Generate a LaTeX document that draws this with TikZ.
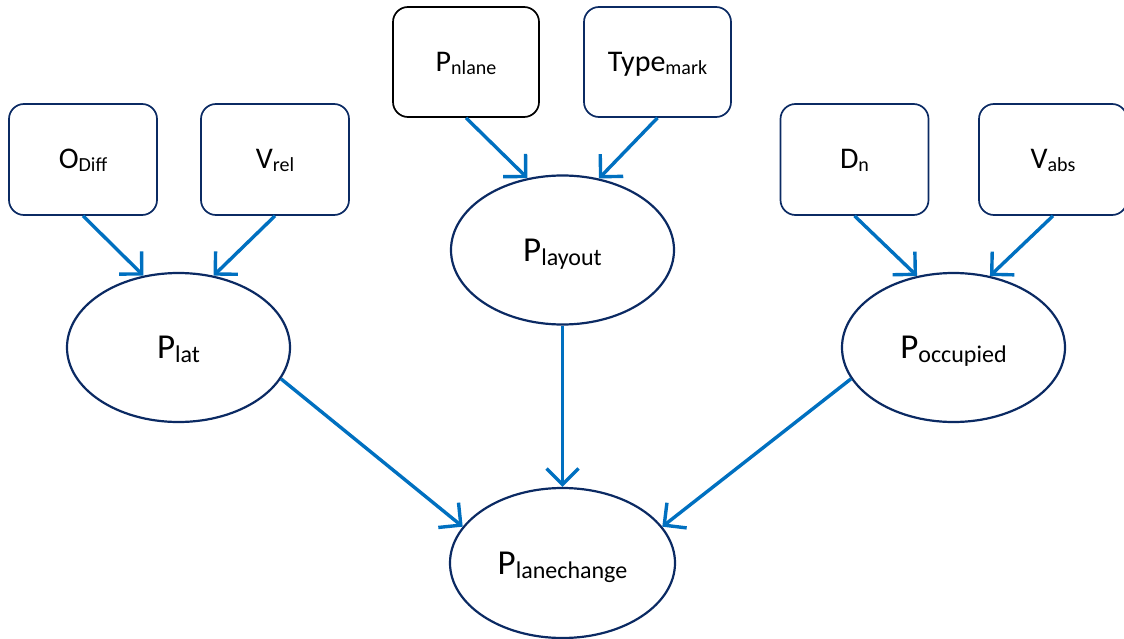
\documentclass[tikz,border=0pt]{standalone}
\usepackage{fontspec}
\setmainfont{Carlito}
\usetikzlibrary{shapes.geometric,arrows.meta}
\definecolor{navy}{HTML}{0B2A63}
\definecolor{arrowblue}{HTML}{0070C0}

% subscripts for box labels and for ellipse labels
\newcommand\bsub[1]{\raisebox{-3pt}{\fontsize{20}{20}\selectfont #1}}
\newcommand\esub[1]{\raisebox{-4pt}{\fontsize{24}{24}\selectfont #1}}

\begin{document}
\begin{tikzpicture}[x=1pt,y=-1pt,
  inbox/.style={draw=navy, line width=1.7pt, rounded corners=15pt,
    minimum width=148pt, minimum height=111pt, inner sep=0pt,
    font=\fontsize{30}{30}\selectfont, text height=19pt, text depth=0pt},
  var/.style={ellipse, draw=navy, line width=2.2pt,
    minimum width=223pt, minimum height=149pt, inner sep=0pt,
    font=\fontsize{35}{35}\selectfont, text height=22pt, text depth=0pt},
  link/.style={draw=arrowblue, line width=3.4pt,
    -{Straight Barb[length=16pt,width=32pt]}}]
\useasboundingbox (0,0) rectangle (1124,639);

% input boxes
\node[inbox] (odiff) at (83,159.5) {O\bsub{Diff}};
\node[inbox] (vrel)  at (275,159.5) {V\bsub{rel}};
\node[inbox, draw=black, minimum width=146pt, minimum height=110pt] (pnlane) at (466,62) {P\bsub{nlane}};
\node[inbox, minimum width=147pt, minimum height=110pt] (tmark) at (657.5,62) {Type\bsub{mark}};
\node[inbox] (dn)    at (854.5,159.5) {D\bsub{n}};
\node[inbox] (vabs)  at (1053,159.5) {V\bsub{abs}};

% probability nodes
\node[var] (plat)  at (178.5,347.5) {P\esub{lat}};
\node[var] (play)  at (562.5,250)   {P\esub{layout}};
\node[var] (pocc)  at (953.5,347.5) {P\esub{occupied}};
\node[var, minimum width=225pt, minimum height=150pt] (plc) at (562.5,563) {P\esub{lanechange}};

% connectors
\draw[link] (odiff.south)  -- (plat.116);
\draw[link] (vrel.south)   -- (plat.64);
\draw[link] (pnlane.south) -- (play.116.5);
\draw[link] (tmark.south)  -- (play.63.5);
\draw[link] (dn.south)     -- (pocc.117);
\draw[link] (vabs.south)   -- (pocc.63);
\draw[link] (plat.-17)     -- (plc.160);
\draw[link] (play.south)   -- (plc.north);
\draw[link] (pocc.197)     -- (plc.20);
\end{tikzpicture}
\end{document}
